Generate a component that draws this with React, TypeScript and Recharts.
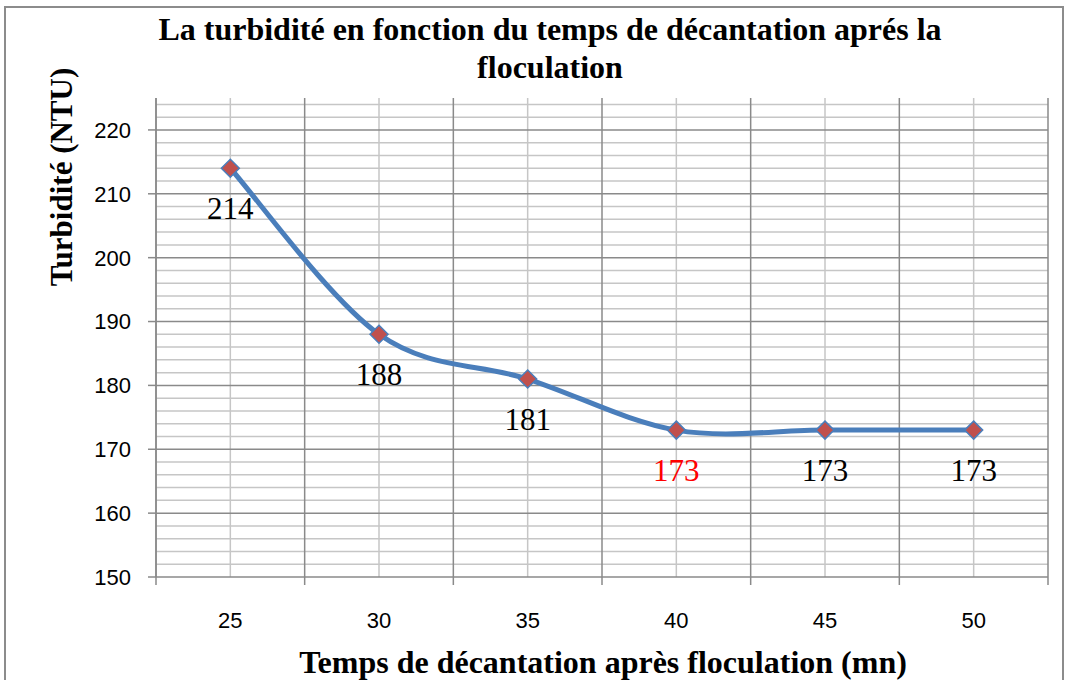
import React from 'react';
import { LineChart, Line, XAxis, YAxis, ReferenceLine } from 'recharts';

// temps de décantation (mn) et turbidité (NTU)
const temps = [25, 30, 35, 40, 45, 50];
const turbidite = [214, 188, 181, 173, 173, 173];
const yTicks = [150, 160, 170, 180, 190, 200, 210, 220];
const xBounds = [22.5, 27.5, 32.5, 37.5, 42.5, 47.5, 52.5];
const labelColors = ['#000', '#000', '#000', '#ff0000', '#000', '#000'];

const data = temps.map((t, i) => ({ t, v: turbidite[i] }));

const minorY: number[] = [];
for (let v = 152; v <= 224; v += 2) if (v % 10 !== 0) minorY.push(v);

const LINE_BLUE = '#4a7ebb';
const MAJOR = '#8a8a8a';
const MINOR = '#c6c6c6';
const serif = '"Liberation Serif", "Times New Roman", serif';
const sans = '"Liberation Sans", Arial, sans-serif';

// lissage façon Excel (Catmull-Rom en Bézier)
const excelSmooth = (context: any) => {
    let pts: number[][] = [];
    return {
        areaStart() {},
        areaEnd() {},
        lineStart() { pts = []; },
        point(x: number, y: number) { pts.push([+x, +y]); },
        lineEnd() {
            const n = pts.length;
            if (!n) return;
            context.moveTo(pts[0][0], pts[0][1]);
            for (let i = 0; i < n - 1; i++) {
                const p0 = pts[Math.max(i - 1, 0)];
                const p1 = pts[i];
                const p2 = pts[i + 1];
                const p3 = pts[Math.min(i + 2, n - 1)];
                context.bezierCurveTo(
                    p1[0] + (p2[0] - p0[0]) / 6, p1[1] + (p2[1] - p0[1]) / 6,
                    p2[0] - (p3[0] - p1[0]) / 6, p2[1] - (p3[1] - p1[1]) / 6,
                    p2[0], p2[1]
                );
            }
        },
    };
};

const Diamond = (props: any) => {
    const { cx, cy, index } = props;
    const r = 9;
    return (
        <polygon
            key={`d-${index}`}
            points={`${cx},${cy - r} ${cx + r},${cy} ${cx},${cy + r} ${cx - r},${cy}`}
            fill="#c0504d"
            stroke={LINE_BLUE}
            strokeWidth={1.5}
        />
    );
};

const ValueLabel = (props: any) => {
    const { x, y, value, index } = props;
    return (
        <text
            x={x}
            y={y + 40}
            textAnchor="middle"
            dominantBaseline="central"
            fontFamily={serif}
            fontSize={31}
            fill={labelColors[index]}
        >
            {value}
        </text>
    );
};

const YTick = (props: any) => {
    const { x, y, payload } = props;
    return (
        <text x={x - 17} y={y} textAnchor="end" dy="0.36em" fontFamily={sans} fontSize={22} fill="#000">
            {payload.value}
        </text>
    );
};

const XTick = (props: any) => {
    const { x, y, payload } = props;
    return (
        <text x={x} y={y} textAnchor="middle" dy="0.72em" fontFamily={sans} fontSize={22} fill="#000">
            {payload.value}
        </text>
    );
};

export default function App() {
    return (
        <div style={{ position: 'absolute', left: 0, top: 0, width: 1068, height: 680, overflow: 'hidden', background: '#fff' }}>
            <div style={{ position: 'absolute', left: 4, top: 6, width: 1056, height: 700, border: '2px solid #8c8c8c' }} />
            <div
                style={{
                    position: 'absolute', left: 100, top: 10, width: 900, textAlign: 'center',
                    fontFamily: serif, fontWeight: 'bold', fontSize: 32, lineHeight: '38px', color: '#000',
                }}
            >
                La turbidité en fonction du temps de décantation aprés la<br />floculation
            </div>
            <div style={{ position: 'absolute', left: 62, top: 177, width: 0, height: 0 }}>
                <div
                    style={{
                        position: 'absolute', left: -150, top: -18, width: 300, textAlign: 'center',
                        transform: 'rotate(-90deg)', fontFamily: serif, fontWeight: 'bold', fontSize: 31,
                        lineHeight: '36px', whiteSpace: 'nowrap',
                    }}
                >
                    Turbidité (NTU)
                </div>
            </div>
            <div
                style={{
                    position: 'absolute', left: 203, top: 643, width: 800, textAlign: 'center',
                    fontFamily: serif, fontWeight: 'bold', fontSize: 32, lineHeight: '38px',
                }}
            >
                Temps de décantation après floculation (mn)
            </div>
            <div style={{ position: 'absolute', left: 0, top: 0 }}>
                <LineChart width={1068} height={680} data={data} margin={{ top: 98, right: 20, bottom: 0, left: 0 }}>
                    <XAxis
                        dataKey="t"
                        type="number"
                        domain={[22.5, 52.5]}
                        ticks={temps}
                        height={103}
                        axisLine={false}
                        tickLine={false}
                        tickSize={0}
                        tickMargin={35}
                        tick={XTick}
                        interval={0}
                    />
                    <YAxis
                        type="number"
                        domain={[150, 225]}
                        ticks={yTicks}
                        width={156}
                        allowDataOverflow
                        axisLine={{ stroke: MAJOR, strokeWidth: 1.5 }}
                        tickLine={{ stroke: MAJOR, strokeWidth: 1.5 }}
                        tickSize={8}
                        tickMargin={0}
                        tick={YTick}
                    />
                    {minorY.map((v) => (
                        <ReferenceLine key={`mn-${v}`} y={v} stroke={MINOR} strokeWidth={1.5} />
                    ))}
                    {temps.map((t) => (
                        <ReferenceLine key={`vc-${t}`} x={t} stroke={MINOR} strokeWidth={1.5} />
                    ))}
                    {yTicks.map((v) => (
                        <ReferenceLine key={`mj-${v}`} y={v} stroke={MAJOR} strokeWidth={1.5} />
                    ))}
                    {xBounds.map((b) => (
                        <ReferenceLine
                            key={`vb-${b}`}
                            segment={[{ x: b, y: 148.75 }, { x: b, y: 225 }]}
                            ifOverflow="visible"
                            stroke={MAJOR}
                            strokeWidth={1.5}
                        />
                    ))}
                    <Line
                        dataKey="v"
                        type={excelSmooth as any}
                        stroke={LINE_BLUE}
                        strokeWidth={5}
                        dot={Diamond}
                        activeDot={false}
                        label={ValueLabel}
                        isAnimationActive={false}
                    />
                </LineChart>
            </div>
        </div>
    );
}
